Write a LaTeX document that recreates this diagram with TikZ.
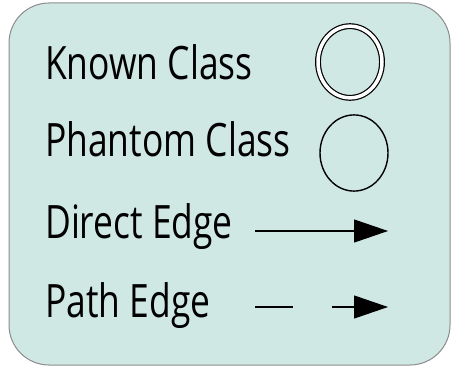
\documentclass[tikz,border=0pt]{standalone}
\usepackage{fontspec}
\newfontfamily\handfont[FakeStretch=0.77]{Open Sans}
\usepackage{xcolor}
\usepackage{tikz}
\usetikzlibrary{arrows.meta,shapes.geometric}
\definecolor{cBg}{HTML}{D0E8E4}
\definecolor{cFrame}{HTML}{8C8C8C}
\definecolor{cInk}{HTML}{000000}

\begin{document}
\begin{tikzpicture}[x=1pt, y=-1pt,
  font=\handfont\fontsize{46}{52}\selectfont,
  >={Triangle[length=34pt,width=23pt]},
  frame/.style={draw=cFrame, fill=cBg, line width=1pt, rounded corners=40pt},
  lbl/.style={anchor=base west, inner sep=0pt, text=cInk},
  cls/.style={ellipse, draw=cInk, line width=1.4pt, inner sep=0pt,
     minimum width=#1, minimum height=1.12*#1},
  edge/.style={->, line width=1.1pt, draw=cInk},
]
\useasboundingbox (0,0) rectangle (452,366);

% legend frame
\draw[frame] (9,3) rectangle (450,365);

% labels
\node[lbl] (known) at (45,80) {Known Class};
\node[lbl] (phantom) at (45,157) {Phantom Class};
\node[lbl] (direct) at (45,238) {Direct Edge};
\node[lbl] (path) at (45,317) {Path Edge};

% symbols
\node[cls=64pt, line width=1.2pt, double, double distance=3.5pt] (knownsym) at (350,62) {};
\node[cls=68pt] (phantomsym) at (354,153) {};

\coordinate (d1) at (255,231);
\coordinate (d2) at (388,231);
\draw[edge] (d1) -- (d2);

\coordinate (p1) at (255,307);
\coordinate (p2) at (388,307);
\draw[edge, dash pattern=on 38pt off 39pt] (p1) -- (p2);

\end{tikzpicture}
\end{document}
